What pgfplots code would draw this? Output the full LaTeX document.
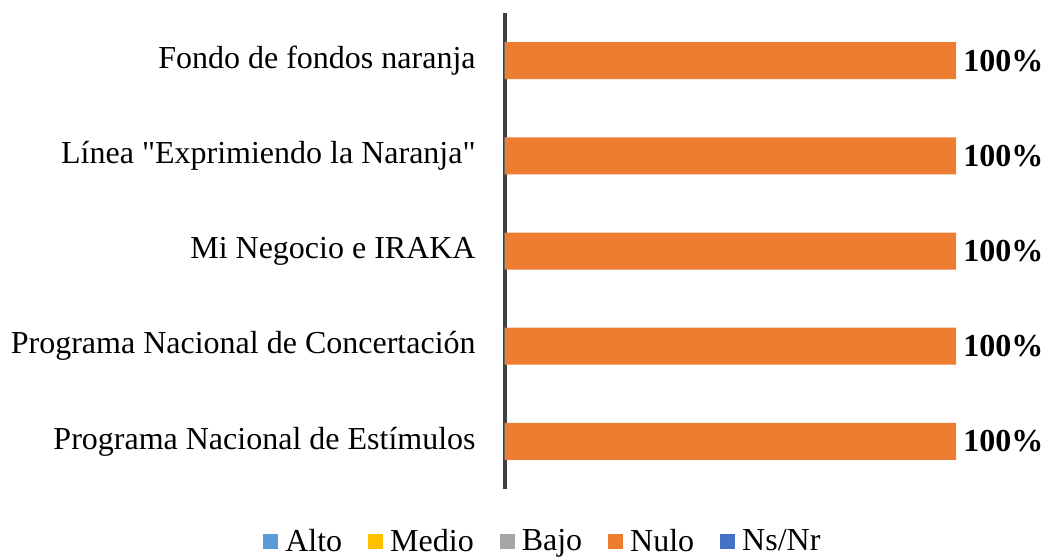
\documentclass[border=0pt]{standalone}
\usepackage{fontspec}
\setmainfont{Liberation Serif}[Ligatures=TeXOff]
\usepackage{pgfplots}
\pgfplotsset{compat=1.18}
\definecolor{alto}{HTML}{5B9BD5}
\definecolor{medio}{HTML}{FFC000}
\definecolor{bajo}{HTML}{A5A5A5}
\definecolor{nulo}{HTML}{ED7D31}
\definecolor{nsnr}{HTML}{4472C4}
\definecolor{axisgray}{HTML}{404040}

\begin{document}
\begin{tikzpicture}
\path[use as bounding box] (-252.5pt,-35pt) rectangle (271.5pt,244.5pt);
\begin{axis}[
    at={(0,0)}, anchor=south west,
    scale only axis,
    width=225.5pt, height=238pt,
    xbar, bar shift=0pt,
    bar width=18.5pt,
    xmin=0, xmax=100,
    ymin=-0.5, ymax=4.5,
    y dir=reverse,
    enlargelimits=false,
    clip=false,
    axis x line=none,
    axis y line*=left,
    y axis line style={line width=2pt, color=axisgray},
    xtick=\empty,
    ytick={0,1,2,3,4},
    yticklabels={Fondo de fondos naranja, Línea "Exprimiendo la Naranja", Mi Negocio e IRAKA, Programa Nacional de Concertación, Programa Nacional de Estímulos},
    major tick length=0pt,
    yticklabel style={font=\fontsize{16}{19}\selectfont, inner sep=0pt, xshift=-14.5pt},
    /pgf/number format/assume math mode=true,
    legend style={at={(0.084,-0.111)}, anchor=center, draw=none,
        inner sep=0pt, nodes={inner sep=1pt},
        font=\fontsize{16}{19}\selectfont, legend columns=-1,
        /tikz/every odd column/.append style={column sep=2.5pt},
        /tikz/every even column/.append style={column sep=12pt}},
    legend image code/.code={\fill[#1] (0pt,-3.75pt) rectangle (7.5pt,3.75pt);},
]
\addplot[fill=alto, draw=none] coordinates {(0,0) (0,1) (0,2) (0,3) (0,4)};
\addplot[fill=medio, draw=none] coordinates {(0,0) (0,1) (0,2) (0,3) (0,4)};
\addplot[fill=bajo, draw=none] coordinates {(0,0) (0,1) (0,2) (0,3) (0,4)};
\addplot[fill=nulo, draw=none,
    nodes near coords={\textbf{\pgfmathprintnumber{\pgfplotspointmeta}\%}},
    nodes near coords style={anchor=west, inner sep=0pt, xshift=3.5pt, text=black, font=\fontsize{16}{19}\selectfont}]
    coordinates {(100,0) (100,1) (100,2) (100,3) (100,4)};
\addplot[fill=nsnr, draw=none] coordinates {(0,0) (0,1) (0,2) (0,3) (0,4)};
\legend{Alto, Medio, Bajo, Nulo, Ns/Nr}
\end{axis}
\end{tikzpicture}
\end{document}
